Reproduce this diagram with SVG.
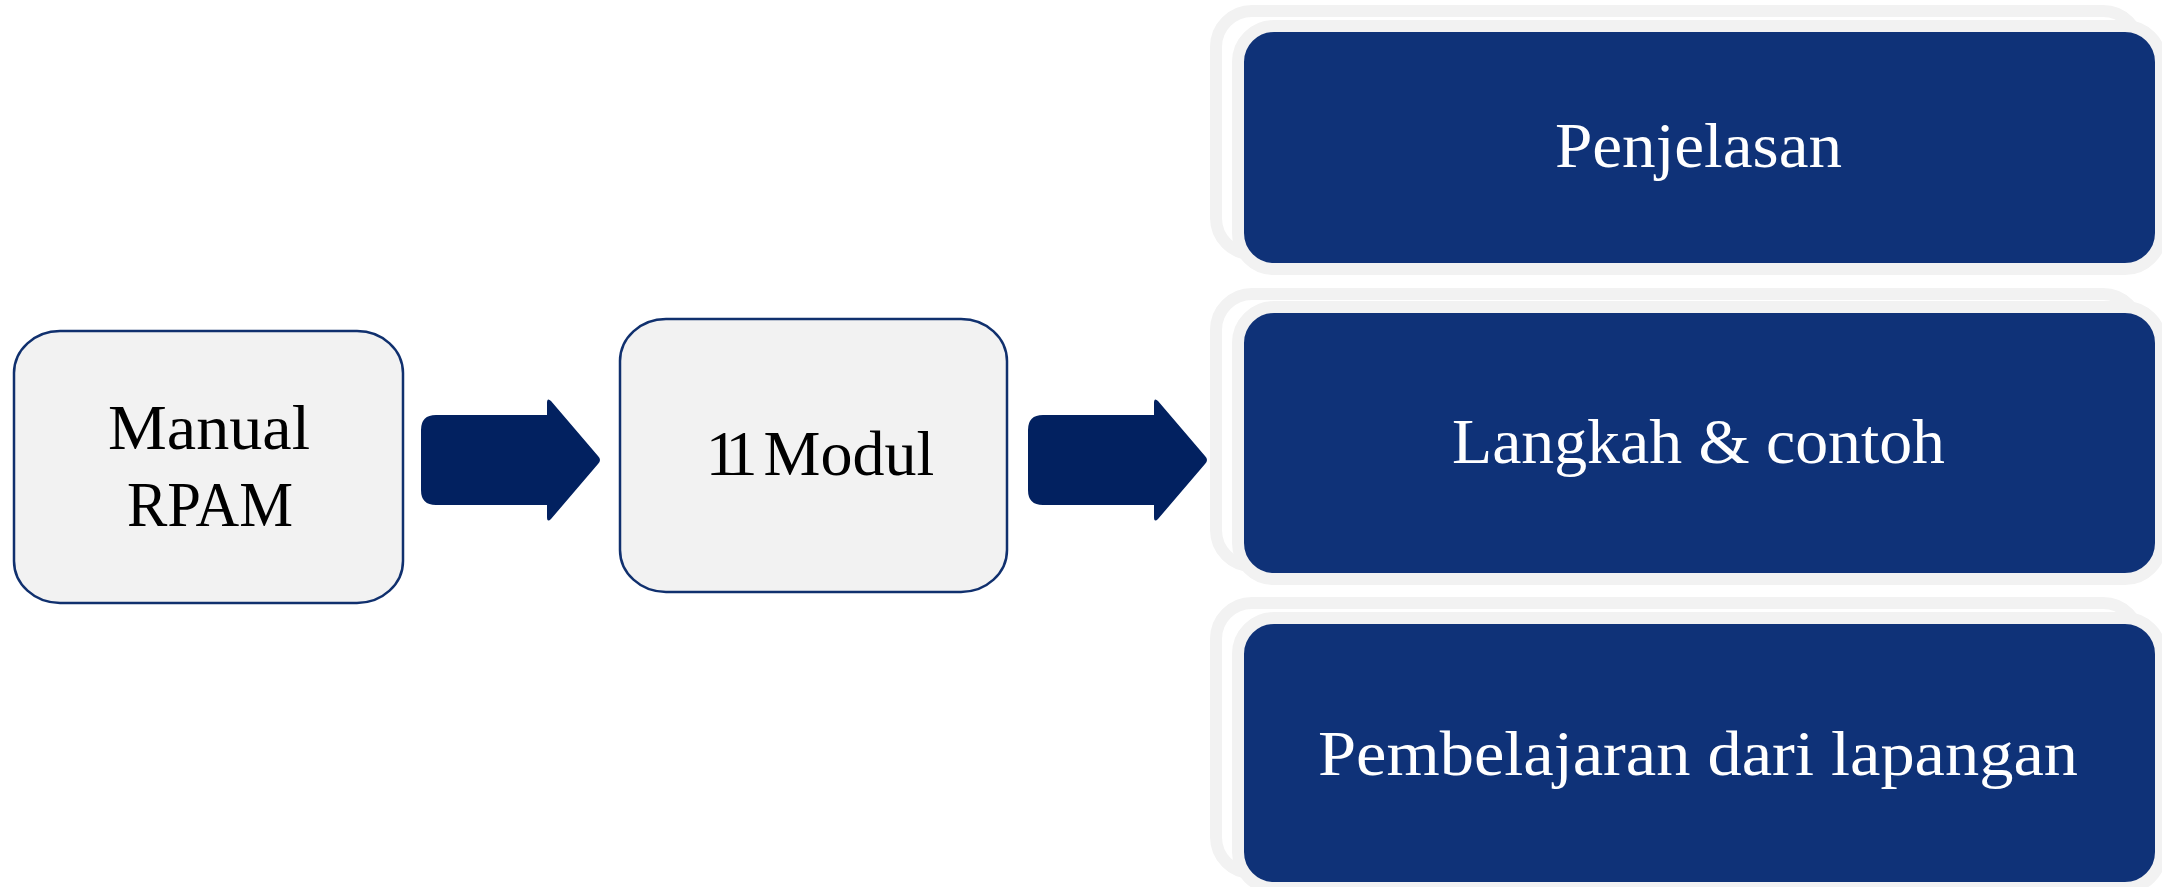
<svg xmlns="http://www.w3.org/2000/svg" width="2162" height="887" viewBox="0 0 2162 887">
<style>
.box{fill:#f2f2f2;stroke:#10306e;stroke-width:2.5}
.back{fill:#ffffff;stroke:#f2f2f2;stroke-width:12}
.front{fill:#0f3278;stroke:#f2f2f2;stroke-width:12}
.arrow{fill:#022160}
.dark{font-family:"Liberation Serif","Times New Roman",serif;font-size:64px;fill:#000000;text-anchor:middle}
.light{font-family:"Liberation Serif","Times New Roman",serif;font-size:64px;fill:#ffffff;text-anchor:middle}
</style>
<defs>
<path id="arr" d="M436,415 L547,415 L547,403 Q547,397 551,401 L598,456 Q602,460 598,464 L551,519 Q547,523 547,517 L547,505 L436,505 Q421,505 421,490 L421,430 Q421,415 436,415 Z"/>
</defs>
<rect width="2162" height="887" fill="#ffffff"/>
<g id="node-manual">
<rect class="box" x="14" y="331" width="389" height="272" rx="46" ry="42"/>
<text class="dark" x="209" y="449" textLength="202" lengthAdjust="spacingAndGlyphs">Manual</text>
<text class="dark" x="210" y="526" textLength="166" lengthAdjust="spacingAndGlyphs">RPAM</text>
</g>
<g id="node-modul">
<rect class="box" x="620" y="319" width="387" height="273" rx="46" ry="42"/>
<text class="dark" x="820" y="475"><tspan letter-spacing="-10">11</tspan> Modul</text>
</g>
<g id="connectors">
<use href="#arr" class="arrow"/>
<use href="#arr" class="arrow" transform="translate(607,0)"/>
</g>
<g id="node-penjelasan">
<rect class="back" x="1216" y="11" width="923" height="243" rx="36"/>
<rect class="front" x="1238" y="26" width="923" height="243" rx="36"/>
<text class="light" x="1698.5" y="167" textLength="287" lengthAdjust="spacingAndGlyphs">Penjelasan</text>
</g>
<g id="node-langkah">
<rect class="back" x="1216" y="294" width="923" height="272" rx="36"/>
<rect class="front" x="1238" y="307" width="923" height="272" rx="36"/>
<text class="light" x="1698.5" y="463" textLength="493" lengthAdjust="spacingAndGlyphs">Langkah &amp; contoh</text>
</g>
<g id="node-pembelajaran">
<rect class="back" x="1216" y="603" width="923" height="270" rx="36"/>
<rect class="front" x="1238" y="618" width="923" height="270" rx="36"/>
<text class="light" x="1698" y="775" textLength="760" lengthAdjust="spacingAndGlyphs">Pembelajaran dari lapangan</text>
</g>
</svg>
